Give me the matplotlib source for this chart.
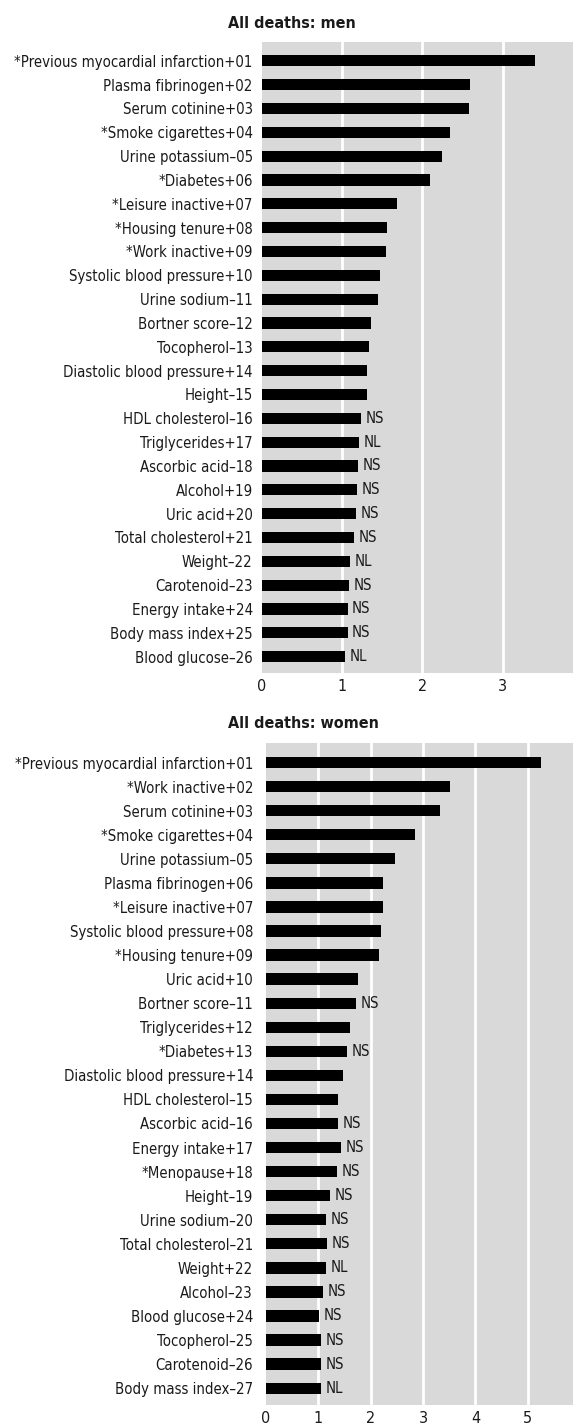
import matplotlib
matplotlib.use("Agg")
import matplotlib.pyplot as plt
from matplotlib import font_manager as fm

# ---------------- data ----------------
men_labels = [
    "*Previous myocardial infarction+01", "Plasma fibrinogen+02", "Serum cotinine+03",
    "*Smoke cigarettes+04", "Urine potassium\u201305", "*Diabetes+06", "*Leisure inactive+07",
    "*Housing tenure+08", "*Work inactive+09", "Systolic blood pressure+10",
    "Urine sodium\u201311", "Bortner score\u201312", "Tocopherol\u201313",
    "Diastolic blood pressure+14", "Height\u201315", "HDL cholesterol\u201316",
    "Triglycerides+17", "Ascorbic acid\u201318", "Alcohol+19", "Uric acid+20",
    "Total cholesterol+21", "Weight\u201322", "Carotenoid\u201323", "Energy intake+24",
    "Body mass index+25", "Blood glucose\u201326",
]
men_values = [3.40, 2.59, 2.58, 2.34, 2.24, 2.09, 1.68, 1.56, 1.55, 1.47,
              1.45, 1.36, 1.34, 1.31, 1.31, 1.24, 1.21, 1.20, 1.19, 1.17,
              1.15, 1.10, 1.09, 1.07, 1.07, 1.04]
men_notes = ["", "", "", "", "", "", "", "", "", "",
             "", "", "", "", "", "NS", "NL", "NS", "NS", "NS",
             "NS", "NL", "NS", "NS", "NS", "NL"]
men_ticks = [0, 1, 2, 3]

women_labels = [
    "*Previous myocardial infarction+01", "*Work inactive+02", "Serum cotinine+03",
    "*Smoke cigarettes+04", "Urine potassium\u201305", "Plasma fibrinogen+06",
    "*Leisure inactive+07", "Systolic blood pressure+08", "*Housing tenure+09",
    "Uric acid+10", "Bortner score\u201311", "Triglycerides+12", "*Diabetes+13",
    "Diastolic blood pressure+14", "HDL cholesterol\u201315", "Ascorbic acid\u201316",
    "Energy intake+17", "*Menopause+18", "Height\u201319", "Urine sodium\u201320",
    "Total cholesterol\u201321", "Weight+22", "Alcohol\u201323", "Blood glucose+24",
    "Tocopherol\u201325", "Carotenoid\u201326", "Body mass index\u201327",
]
women_values = [5.26, 3.52, 3.33, 2.84, 2.47, 2.24, 2.24, 2.20, 2.16, 1.76,
                1.72, 1.61, 1.55, 1.48, 1.38, 1.38, 1.44, 1.36, 1.23, 1.15,
                1.17, 1.15, 1.09, 1.01, 1.05, 1.05, 1.05]
women_notes = ["", "", "", "", "", "", "", "", "", "",
               "NS", "", "NS", "", "", "NS", "NS", "NS", "NS", "NS",
               "NS", "NL", "NS", "NS", "NS", "NS", "NL"]
women_ticks = [0, 1, 2, 3, 4, 5]

# ---------------- fonts ----------------
names = {f.name for f in fm.fontManager.ttflist}
if "Liberation Sans Narrow" in names:
    FONT = ["Liberation Sans Narrow", "DejaVu Sans"]
    stretch = "normal"
else:
    FONT = ["DejaVu Sans"]
    stretch = "condensed"
plt.rcParams["font.family"] = FONT

TXT = "#1a1a1a"
BG = "#d9d9d9"
FS = 10.7

W, H = 573, 1428
fig = plt.figure(figsize=(W / 100, H / 100), dpi=100)


def panel(rect, labels, values, notes, ticks, xmax, title, title_y, ypad):
    ax = fig.add_axes(rect)
    n = len(labels)
    y = list(range(n))
    ax.set_facecolor(BG)
    ax.barh(y, values, height=0.47, color="black", zorder=3)
    ax.set_ylim(n - 1 + 0.70, -0.80)
    ax.set_xlim(0, xmax)
    ax.set_yticks(y)
    ax.set_yticklabels(labels, fontsize=FS, color=TXT, fontstretch=stretch)
    ax.set_xticks(ticks)
    ax.set_xticklabels([str(t) for t in ticks], fontsize=FS + 0.8, color=TXT,
                       fontstretch=stretch)
    ax.tick_params(axis="both", length=0)
    ax.tick_params(axis="y", pad=ypad)
    ax.tick_params(axis="x", pad=4)
    for t in ticks[1:]:
        ax.axvline(t, color="white", lw=2, zorder=1)
    for s in ax.spines.values():
        s.set_visible(False)
    for yi, v, note in zip(y, values, notes):
        if note:
            ax.annotate(note, (v, yi), xytext=(3.2, 0), textcoords="offset points",
                        ha="left", va="center", fontsize=FS, color=TXT,
                        fontstretch=stretch, zorder=4)
    fig.text(228 / W, title_y, title, fontsize=FS + 0.8, fontweight="bold",
             color=TXT, ha="left", va="center", fontstretch=stretch)
    return ax


panel([261.7 / W, 1 - 673.3 / H, 1 - 261.7 / W, (673.3 - 41.7) / H],
      men_labels, men_values, men_notes, men_ticks, 3.875,
      "All deaths: men", 1 - 23 / H, 6.5)
panel([266.0 / W, 1 - 1405.0 / H, 1 - 266.0 / W, (1405.0 - 743.3) / H],
      women_labels, women_values, women_notes, women_ticks, 5.866,
      "All deaths: women", 1 - 723 / H, 9.3)

fig.savefig("out.png", dpi=100)
